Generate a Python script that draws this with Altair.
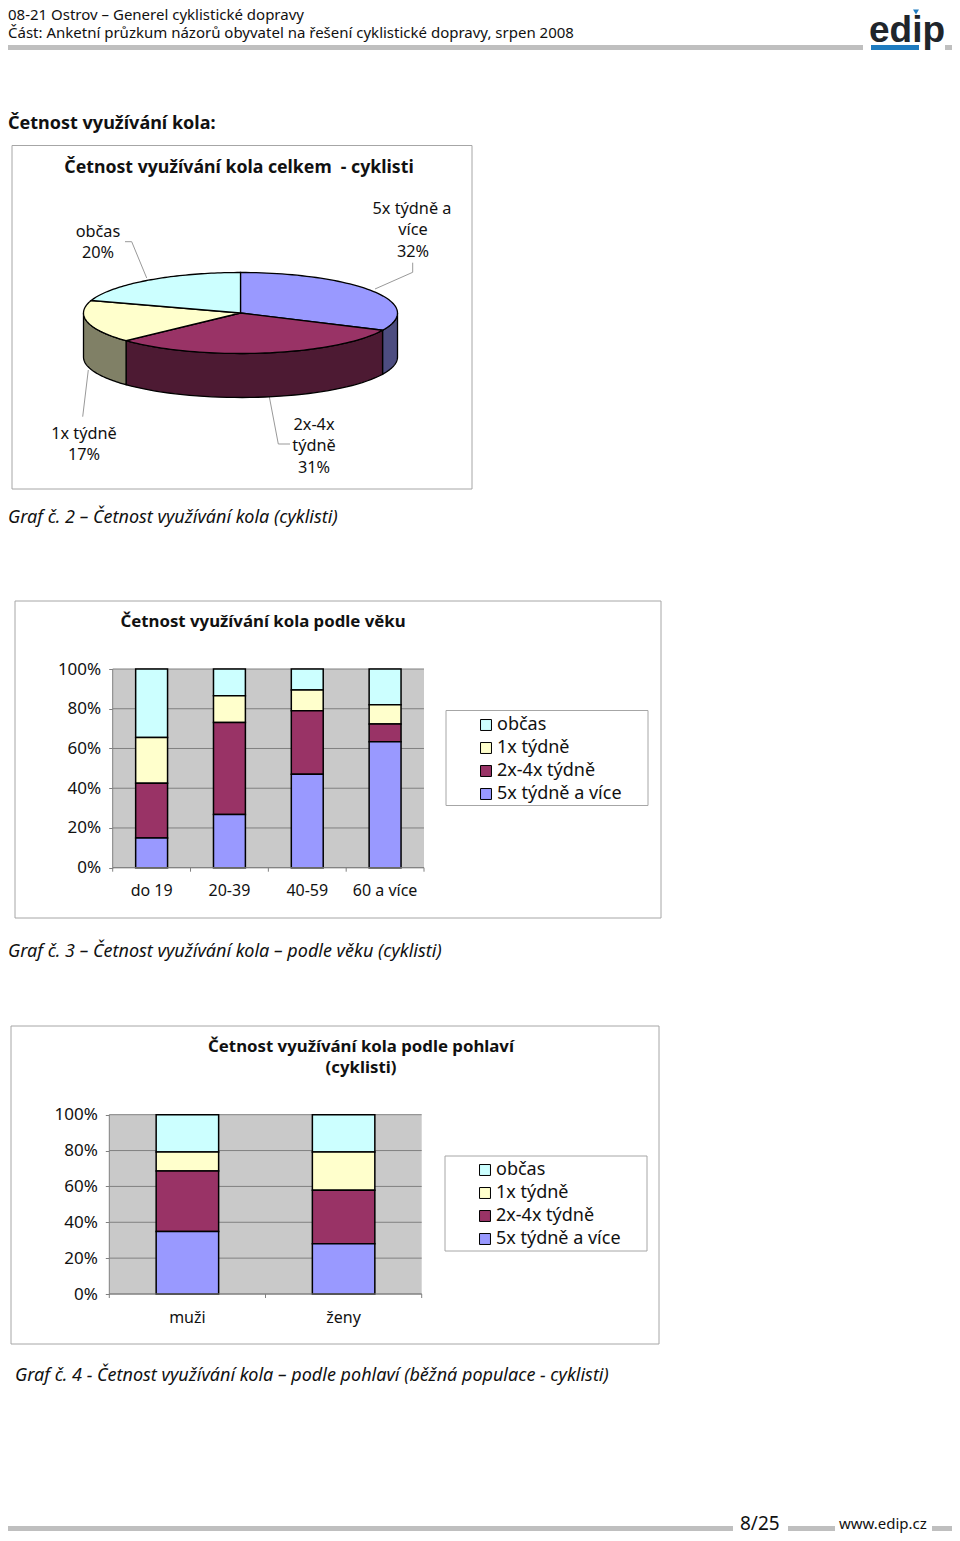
import math
import altair as alt

FONT = "Noto Sans"
OFF = 8  # page margin

SERIES = ["občas", "1x týdně", "2x-4x týdně", "5x týdně a více"]
COLORS = ["#CCFFFF", "#FFFFCC", "#993366", "#9999FF"]
STACK_RANK = [4, 3, 2, 1]

PIE_SHARES = [32, 31, 17, 20]
PIE_COLORS = ["#9999FF", "#993366", "#FFFFCC", "#CCFFFF"]
PIE_WALLS = ["#4D4D80", "#4D1A33", "#808066", "#66809A"]

AGE_CATS = ["do 19", "20-39", "40-59", "60 a více"]
AGE_OBCAS = [34.5, 13.5, 10.6, 18.0]
AGE_1X = [23.0, 13.4, 10.4, 9.7]
AGE_2X = [27.6, 46.3, 32.0, 8.9]
AGE_5X = [14.9, 26.8, 47.0, 63.4]

SEX_CATS = ["muži", "ženy"]
SEX_OBCAS = [20.8, 20.8]
SEX_1X = [10.6, 21.4]
SEX_2X = [33.8, 29.8]
SEX_5X = [34.8, 28.0]

TICKS = [0, 20, 40, 60, 80, 100]
H = 1525
W = 944


def px(v):
    return alt.value(v - OFF)


def text(s, x, y, size=16.3, weight="normal", style="normal", align="left", color="#111111", font=FONT):
    return alt.Chart(alt.Data(values=[{"t": s}])).mark_text(
        align=align, baseline="alphabetic", fontSize=size, fontWeight=weight,
        fontStyle=style, font=font, color=color,
    ).encode(x=px(x), y=px(y), text="t:N")


def box(x0, y0, x1, y1, fill="transparent", stroke="#A6A6A6", sw=1):
    return alt.Chart(alt.Data(values=[{"a": 1}])).mark_rect(
        fill=fill, stroke=stroke, strokeWidth=sw
    ).encode(x=px(x0), x2=px(x1), y=px(y0), y2=px(y1))


def seg(x0, y0, x1, y1, color="#999999", sw=1):
    return alt.Chart(alt.Data(values=[{"a": 1}])).mark_rule(
        color=color, strokeWidth=sw
    ).encode(x=px(x0), x2=px(x1), y=px(y0), y2=px(y1))


def stacked(cats, series_vals, x0, x1, y0, y100, pad, legend_x, legend_y, label_y, label_pad):
    rows = []
    for name, rank, vals in zip(SERIES, STACK_RANK, series_vals):
        for c, v in zip(cats, vals):
            rows.append({"cat": c, "series": name, "rank": rank, "value": v})
    yscale = alt.Scale(domain=[0, 100], range=[y0 - OFF, y100 - OFF], nice=False, zero=True)
    xscale = alt.Scale(domain=cats, range=[x0 - OFF, x1 - OFF], paddingInner=pad, paddingOuter=pad / 2)
    qscale = alt.Scale(domain=[0, len(cats)], range=[x0 - OFF, x1 - OFF], nice=False, zero=False)

    bg = box(x0, y100, x1, y0, fill="#C9C9C9", stroke="#C9C9C9", sw=0)
    grid = alt.Chart(alt.Data(values=[{"v": t} for t in TICKS])).mark_rule(
        color="#808080", strokeWidth=1
    ).encode(
        y=alt.Y("v:Q", scale=yscale, axis=alt.Axis(
            orient="left", values=TICKS, labelExpr="datum.value + '%'", domain=False, grid=False,
            title=None, tickColor="#808080", tickSize=4, labelPadding=label_pad,
            labelFont=FONT, labelFontSize=17, labelColor="#111111",
            offset=-(x0 - OFF),
        )),
        x=px(x0), x2=px(x1),
    )
    bars = alt.Chart(alt.Data(values=rows)).mark_bar(stroke="black", strokeWidth=1.5).encode(
        x=alt.X("cat:N", scale=xscale, sort=cats, axis=alt.Axis(
            orient="bottom", domain=False, ticks=False, grid=False, labelAngle=0, title=None,
            labelFont=FONT, labelFontSize=16, labelColor="#111111", labelPadding=label_y,
            offset=-(H - (y0 - OFF)),
        )),
        y=alt.Y("value:Q", stack="zero", scale=yscale, axis=None),
        order=alt.Order("rank:Q"),
        color=alt.Color("series:N", scale=alt.Scale(domain=SERIES, range=COLORS), legend=alt.Legend(
            orient="none", legendX=legend_x - OFF, legendY=legend_y - OFF, title=None,
            symbolType="square", symbolSize=120, symbolStrokeColor="black", symbolStrokeWidth=1,
            labelFont=FONT, labelFontSize=18, labelColor="#111111", rowPadding=5, padding=0,
            labelOffset=2, values=SERIES,
        )),
    )
    baseline = seg(x0, y0, x1, y0, color="#808080")
    left = seg(x0, y100, x0, y0, color="#808080")
    xt = alt.Chart(alt.Data(values=[{"i": i} for i in range(len(cats) + 1)])).mark_rule(
        color="#808080", strokeWidth=1
    ).encode(
        x=alt.X("i:Q", scale=qscale, axis=None),
        y=px(y0), y2=px(y0 + 4),
    )
    return [bg, grid, left, xt, bars, baseline]


# ---------- pie ----------
CX, CY, RX, RY, DEPTH = 240.5, 313.0, 157.0, 40.5, 44.0


def ell(angle, dy=0.0):
    a = math.radians(angle)
    return [CX + RX * math.sin(a) - OFF, CY - RY * math.cos(a) + dy - OFF]


features = []
edges = [0.0]
for s in PIE_SHARES:
    edges.append(edges[-1] + s * 3.6)
for i, col in enumerate(PIE_WALLS):
    a0, a1 = max(edges[i], 90.0), min(edges[i + 1], 270.0)
    if a1 <= a0:
        continue
    n = 40
    top = [ell(a0 + (a1 - a0) * k / n) for k in range(n + 1)]
    bot = [ell(a1 - (a1 - a0) * k / n, DEPTH) for k in range(n + 1)]
    features.append({"type": "Feature", "properties": {"c": col},
                     "geometry": {"type": "Polygon", "coordinates": [top + bot + [top[0]]]}})
for i, col in enumerate(PIE_COLORS):
    a0, a1 = edges[i], edges[i + 1]
    n = 60
    arc = [ell(a0 + (a1 - a0) * k / n) for k in range(n + 1)]
    c = [CX - OFF, CY - OFF]
    features.append({"type": "Feature", "properties": {"c": col},
                     "geometry": {"type": "Polygon", "coordinates": [[c] + arc + [c]]}})

pie = alt.Chart(alt.InlineData(
    values={"type": "FeatureCollection", "features": features},
    format=alt.DataFormat(property="features", type="json"),
)).mark_geoshape(stroke="black", strokeWidth=1.3).encode(
    color=alt.Color("properties.c:N", scale=None)
).project(type="identity", scale=1, translate=[0, 0])

logo_mark = alt.Chart(alt.Data(values=[{"a": 1}])).mark_point(
    shape="triangle-down", filled=True, color="#1F7CC0", size=35, opacity=1
).encode(x=px(916), y=px(12))

layers = []
# header
layers += [
    box(8, 45, 863, 50, fill="#BFBFBF", stroke="#BFBFBF", sw=0),
    box(945, 45, 952, 50, fill="#BFBFBF", stroke="#BFBFBF", sw=0),
    text("08-21 Ostrov – Generel cyklistické dopravy", 8, 20, size=15),
    text("Část: Anketní průzkum názorů obyvatel na řešení cyklistické dopravy, srpen 2008", 8, 38, size=15),
    text("edip", 869, 42, size=37, weight="bold", color="#20252B", font="Liberation Sans"),
    logo_mark,
    box(871, 45, 919, 50, fill="#1F7CC0", stroke="#1F7CC0", sw=0),
    text("Četnost využívání kola:", 8, 129, size=18, weight="bold"),
]
# pie panel
layers += [
    box(12, 145.5, 472, 489),
    text("Četnost využívání kola celkem \u00a0- cyklisti", 239, 173, size=17.7, weight="bold", align="center"),
    seg(125, 241.7, 131.7, 241.7), seg(131.7, 241.7, 146.7, 278),
    seg(412.7, 262.7, 412.7, 272.3), seg(412.7, 272.3, 375, 289),
    seg(269.3, 396.7, 278.3, 444), seg(278.3, 444, 290, 444),
    seg(88.3, 370, 82.7, 416.7),
    pie,
]
for s, x, y in [("občas", 98, 237), ("20%", 98, 258), ("5x týdně a", 412, 214), ("více", 413, 235),
                ("32%", 413, 257), ("1x týdně", 84, 439), ("17%", 84, 460), ("2x-4x", 314, 430),
                ("týdně", 314, 451), ("31%", 314, 473)]:
    layers.append(text(s, x, y, align="center"))
layers.append(text("Graf č. 2 – Četnost využívání kola (cyklisti)", 8, 523, size=18, style="italic"))

# age panel
layers += [
    box(15, 601, 661, 918),
    text("Četnost využívání kola podle věku", 263, 627, size=16.8, weight="bold", align="center"),
    box(446, 710.5, 648, 805.5),
]
layers += stacked(AGE_CATS, [AGE_OBCAS, AGE_1X, AGE_2X, AGE_5X], 112.7, 424, 867.7, 669, 0.59,
                  477, 716, 15, 8)
layers.append(text("Graf č. 3 – Četnost využívání kola – podle věku (cyklisti)", 8, 957, size=18, style="italic"))

# sex panel
layers += [
    box(11, 1026, 659, 1344),
    text("Četnost využívání kola podle pohlaví", 361, 1052, size=16.8, weight="bold", align="center"),
    text("(cyklisti)", 361, 1073, size=16.8, weight="bold", align="center"),
    box(445, 1156, 647, 1251),
]
layers += stacked(SEX_CATS, [SEX_OBCAS, SEX_1X, SEX_2X, SEX_5X], 109.3, 421.7, 1294, 1114.7, 0.6,
                  476, 1161, 15, 8)
layers.append(text("Graf č. 4 - Četnost využívání kola – podle pohlaví (běžná populace - cyklisti)", 15, 1381, size=18, style="italic"))

# footer
layers += [
    box(8, 1526, 733, 1531, fill="#BFBFBF", stroke="#BFBFBF", sw=0),
    box(788, 1526, 835, 1531, fill="#BFBFBF", stroke="#BFBFBF", sw=0),
    box(932, 1526, 952, 1531, fill="#BFBFBF", stroke="#BFBFBF", sw=0),
    text("8/25", 740, 1530, size=19),
    text("www.edip.cz", 839, 1529, size=15),
]

chart = alt.layer(*layers).resolve_scale(x="independent", y="independent", color="independent").properties(
    width=W, height=H, padding=0, autosize=alt.AutoSizeParams(type="none"),
    background="white",
).configure_view(stroke=None)

chart.save("out.html", embed_options={"renderer": "svg", "actions": False})
